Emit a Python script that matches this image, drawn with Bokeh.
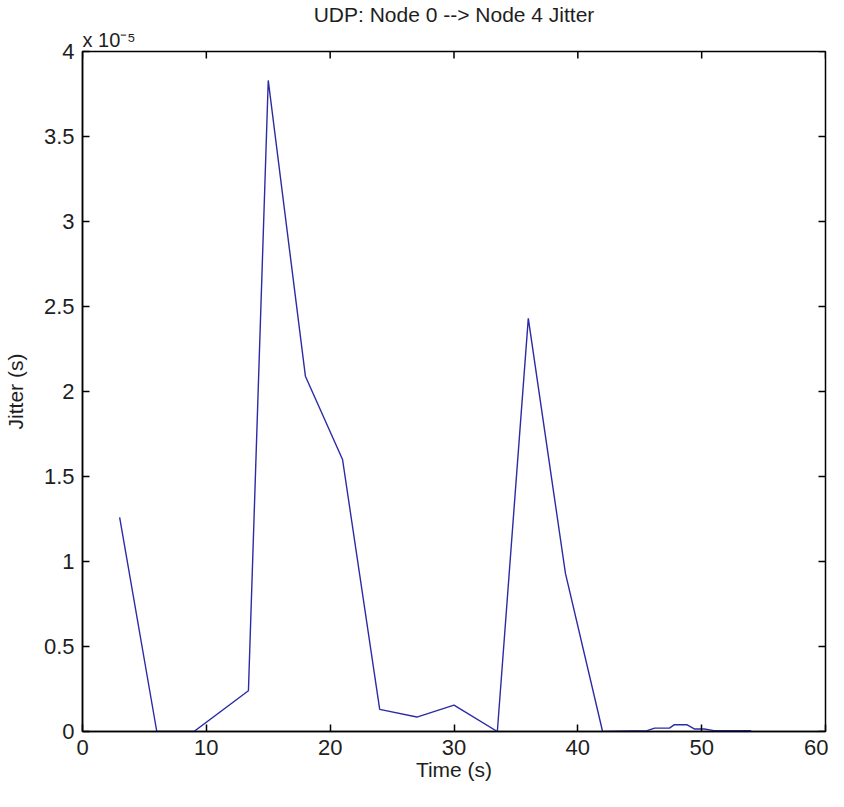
import math
from bokeh.plotting import figure
from bokeh.models import Range1d, FixedTicker, Title
from bokeh.embed import file_html
from bokeh.resources import INLINE

# Data (jitter in units of 1e-5 s)
time_s = [3, 6, 9, 13.4, 15, 18, 21, 24, 27, 30, 33.5, 36, 39, 42, 45.6, 46.2, 47.4, 47.8, 48.8, 49.4, 50.2, 51, 54]
jitter_e5 = [1.26, 0.0, 0.0, 0.24, 3.83, 2.09, 1.60, 0.13, 0.085, 0.155, 0.0, 2.43, 0.93, 0.0, 0.005, 0.02, 0.02, 0.04, 0.04, 0.015, 0.015, 0.005, 0.005]

x_ticks = [0, 10, 20, 30, 40, 50, 60]
y_ticks = [0, 0.5, 1, 1.5, 2, 2.5, 3, 3.5, 4]
y_tick_labels = ["0", "0.5", "1", "1.5", "2", "2.5", "3", "3.5", "4"]
x_min, x_max = 0, 60
y_min, y_max = 0, 4

FONT = "Liberation Sans"
TXT = "#1e1e1e"

p = figure(width=828, height=791, output_backend="svg", toolbar_location=None,
           x_range=Range1d(x_min, x_max), y_range=Range1d(y_min, y_max),
           min_border_left=81, min_border_right=3, min_border_top=41, min_border_bottom=60,
           title=None)

# exponent multiplier (closest to frame), then main title
p.add_layout(Title(text="x 10\u207b\u2075", align="left", text_font=FONT, text_font_size="20px",
                   text_font_style="normal", text_color=TXT, standoff=2, offset=0), "above")
p.add_layout(Title(text="UDP: Node 0 --> Node 4 Jitter", align="center", text_font=FONT,
                   text_font_size="21px", text_font_style="normal", text_color=TXT,
                   standoff=0), "above")

p.line(time_s, jitter_e5, line_color="#2b2ba6", line_width=1.4)

# mirrored ticks on top and right edges
n_x = len(x_ticks)
n_y = len(y_ticks)
p.ray(x=x_ticks, y=[y_max] * n_x, length=7, angle=-math.pi / 2, length_units="screen",
      line_color="black", line_width=1.5)
p.ray(x=[x_max] * n_y, y=y_ticks, length=7, angle=math.pi, length_units="screen",
      line_color="black", line_width=1.5)

p.grid.visible = False
p.outline_line_color = "black"
p.outline_line_width = 1.5

for ax in (p.xaxis[0], p.yaxis[0]):
    ax.major_tick_in = 7
    ax.major_tick_out = 0
    ax.minor_tick_line_color = None
    ax.axis_line_width = 1.5
    ax.major_tick_line_width = 1.5
    ax.major_label_text_font = FONT
    ax.major_label_text_font_size = "22px"
    ax.major_label_text_color = TXT
    ax.axis_label_text_font = FONT
    ax.axis_label_text_font_size = "21px"
    ax.axis_label_text_font_style = "normal"
    ax.axis_label_text_color = TXT

p.xaxis.ticker = FixedTicker(ticks=x_ticks)
p.yaxis.ticker = FixedTicker(ticks=y_ticks)
p.yaxis.major_label_overrides = {t: s for t, s in zip(y_ticks, y_tick_labels)}
p.xaxis.axis_label = "Time (s)"
p.yaxis.axis_label = "Jitter (s)"
p.xaxis.major_label_standoff = 8
p.yaxis.major_label_standoff = 8
p.xaxis.axis_label_standoff = 0
p.yaxis.axis_label_standoff = 14

open("out.html", "w").write(file_html(p, INLINE))
